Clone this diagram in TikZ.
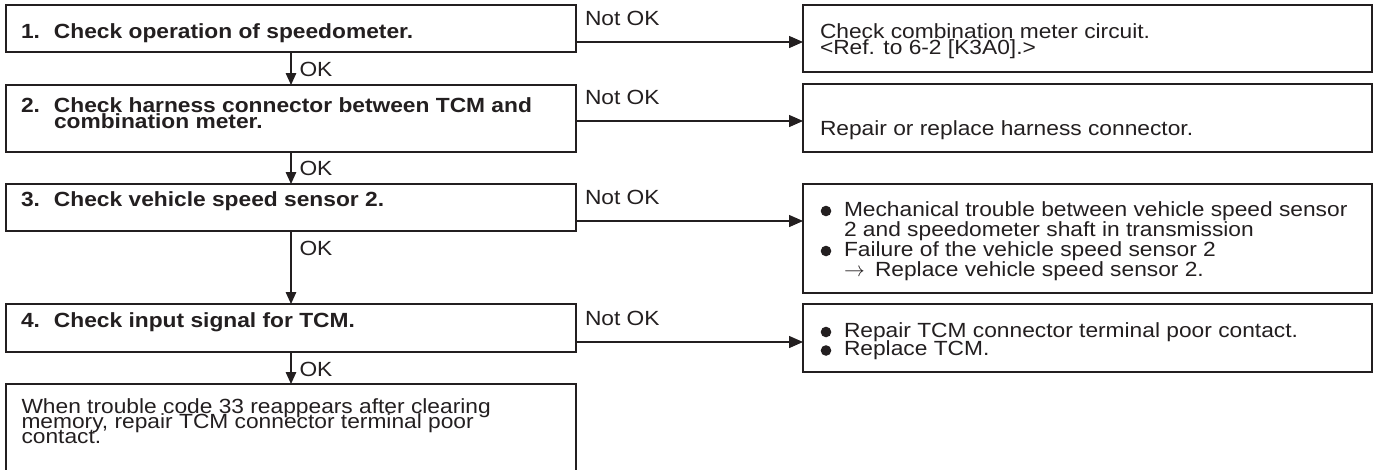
\documentclass[tikz,border=0pt]{standalone}
\usepackage{fontspec}
\setmainfont{Liberation Sans}[FakeStretch=1.11]
\usetikzlibrary{arrows.meta}
\definecolor{ink}{RGB}{35,31,32}
\newcommand\nmbox[1]{\makebox[33pt][l]{#1}}
\newcommand\lns[2]{\vtop{\baselineskip=#1\relax\lineskiplimit=-100pt\relax\lineskip=0pt\relax #2}}
\tikzset{
  box/.style={draw=ink, line width=1.4pt, anchor=north west, inner sep=0pt, outer sep=0pt, minimum width=570pt},
  rbox/.style={box, minimum width=569pt},
  txt/.style={anchor=base west, inner sep=0pt, outer sep=0pt, text=ink,
    font=\fontsize{20.5}{15}\selectfont},
  bullet/.style={fill=ink},
  harr/.style={draw=ink, line width=1.4pt, -{Triangle[length=14pt,width=12pt]}},
  varr/.style={draw=ink, line width=1.4pt, -{Triangle[length=12pt,width=10.5pt]}},
}
\begin{document}
\begin{tikzpicture}[x=1pt, y=-1pt]
\path[fill=white, use as bounding box] (0,0) rectangle (1375,469);

% left column boxes
\node[box, minimum height=47pt] (b1) at (6,5) {};
\node[box, minimum height=67pt] (b2) at (6,85) {};
\node[box, minimum height=47pt] (b3) at (6,184) {};
\node[box, minimum height=48pt] (b4) at (6,304) {};
\node[box, minimum height=100pt] (b5) at (6,384) {};

% right column boxes
\node[rbox, minimum height=67pt] (r1) at (803,5) {};
\node[rbox, minimum height=68pt] (r2) at (803,84) {};
\node[rbox, minimum height=109pt] (r3) at (803,184) {};
\node[rbox, minimum height=68pt] (r4) at (803,304) {};

% left texts
\node[txt] (t1) at (21,38) {\bfseries\nmbox{1.}Check operation of speedometer.};
\node[txt] (t2) at (21,112.5) {\bfseries\lns{15.5pt}{\hbox{\nmbox{2.}Check harness connector between TCM and}\hbox{\nmbox{}combination meter.}}};
\node[txt] (t3) at (21,206) {\bfseries\nmbox{3.}Check vehicle speed sensor 2.};
\node[txt] (t4) at (21,327) {\bfseries\nmbox{4.}Check input signal for TCM.};
\node[txt] (t5) at (21.5,413) {\lns{15.2pt}{\hbox{When trouble code 33 reappears after clearing}\hbox{memory, repair TCM connector terminal poor}\hbox{contact.}}};

% right texts
\node[txt] (u1) at (820,38.5) {\lns{15.5pt}{\hbox{Check combination meter circuit.}\hbox{<Ref. to 6-2 [K3A0].>}}};
\node[txt] (u2) at (820,135) {Repair or replace harness connector.};
\node[txt] (u3) at (844,216) {\lns{20pt}{\hbox{Mechanical trouble between vehicle speed sensor}\hbox{2 and speedometer shaft in transmission}\hbox{Failure of the vehicle speed sensor 2}\hbox{\makebox[31pt][l]{\fontsize{22}{22}\selectfont$\rightarrow$}Replace vehicle speed sensor 2.}}};
\node[txt] (u4) at (844,337) {\lns{18.5pt}{\hbox{Repair TCM connector terminal poor contact.}\hbox{Replace TCM.}}};

% bullets
\fill[bullet] ([xshift=-18pt,yshift=5pt]u3.base west) circle (5.3pt);
\fill[bullet] ([xshift=-18pt,yshift=-35pt]u3.base west) circle (5.3pt);
\fill[bullet] ([xshift=-18pt,yshift=5pt]u4.base west) circle (5.3pt);
\fill[bullet] ([xshift=-18pt,yshift=-13.5pt]u4.base west) circle (5.3pt);

% OK connectors
\draw[varr] (b1.south) -- (b2.north);
\draw[varr] (b2.south) -- (b3.north);
\draw[varr] (b3.south) -- (b4.north);
\draw[varr] (b4.south) -- (b5.north);
\node[txt] (ok1) at ([xshift=8.5pt,yshift=-24pt]b1.south) {OK};
\node[txt] (ok2) at ([xshift=8.5pt,yshift=-23pt]b2.south) {OK};
\node[txt] (ok3) at ([xshift=8.5pt,yshift=-24pt]b3.south) {OK};
\node[txt] (ok4) at ([xshift=8.5pt,yshift=-24pt]b4.south) {OK};

% Not OK connectors
\coordinate (a1) at ([yshift=-13.5pt]b1.east);
\coordinate (a2) at ([yshift=-2.5pt]b2.east);
\coordinate (a3) at ([yshift=-13.5pt]b3.east);
\coordinate (a4) at ([yshift=-14pt]b4.east);
\draw[harr] (a1) -- (r1.west |- a1);
\draw[harr] (a2) -- (r2.west |- a2);
\draw[harr] (a3) -- (r3.west |- a3);
\draw[harr] (a4) -- (r4.west |- a4);
\node[txt] (n1) at ([xshift=9pt,yshift=16.5pt]a1) {Not OK};
\node[txt] (n2) at ([xshift=9pt,yshift=16.5pt]a2) {Not OK};
\node[txt] (n3) at ([xshift=9pt,yshift=16.5pt]a3) {Not OK};
\node[txt] (n4) at ([xshift=9pt,yshift=16.5pt]a4) {Not OK};
\end{tikzpicture}
\end{document}
